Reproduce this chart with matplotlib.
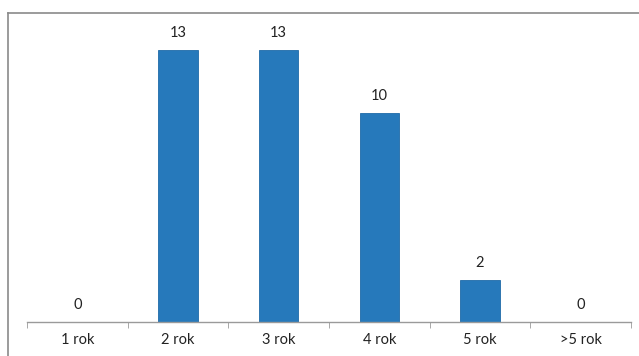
import matplotlib.pyplot as plt
from matplotlib.lines import Line2D

# data
categories = ["1 rok", "2 rok", "3 rok", "4 rok", "5 rok", ">5 rok"]
counts = [0, 13, 13, 10, 2, 0]

plt.rcParams['font.family'] = ['Lato', 'DejaVu Sans']

W, H = 639, 356
fig = plt.figure(figsize=(W / 100, H / 100), dpi=100)
fig.patch.set_facecolor("white")

# axes area: x from 27 to 631 px, baseline at y=322, top at y=13
ax = fig.add_axes([27 / W, (H - 322) / H, (631 - 27) / W, (322 - 13) / H])
ax.set_facecolor("none")

x = list(range(len(categories)))
ax.bar(x, counts, width=0.39, color="#2679bb", edgecolor="#1f6aa8", linewidth=0.6)

ax.set_xlim(-0.5, len(categories) - 0.5)
ax.set_ylim(0, 14.78)

for xi, v in zip(x, counts):
    ax.annotate(str(v), (xi, v), xytext=(0, 7), textcoords="offset points",
                ha="center", va="bottom", fontsize=10.5, color="#222222")

for side in ["left", "top", "right"]:
    ax.spines[side].set_visible(False)
ax.spines["bottom"].set_color("#9a9a9a")
ax.spines["bottom"].set_linewidth(1.0)
ax.set_yticks([])

# category labels in the middle, ticks at the boundaries
ax.set_xticks(x)
ax.set_xticklabels(categories, fontsize=10.5, color="#222222")
ax.tick_params(axis="x", which="major", length=0, pad=8)
ax.set_xticks([i - 0.5 for i in range(len(categories) + 1)], minor=True)
ax.tick_params(axis="x", which="minor", length=4, color="#9a9a9a", direction="out")

# outer chart frame (left and top edges visible in the scan)
fig.add_artist(Line2D([8 / W, 8 / W], [0, 1 - 13 / H], transform=fig.transFigure,
                      color="#8a8a8a", linewidth=1.2))
fig.add_artist(Line2D([8 / W, 1], [1 - 13 / H, 1 - 13 / H], transform=fig.transFigure,
                      color="#8a8a8a", linewidth=1.2))

fig.savefig("out.png", dpi=100)
